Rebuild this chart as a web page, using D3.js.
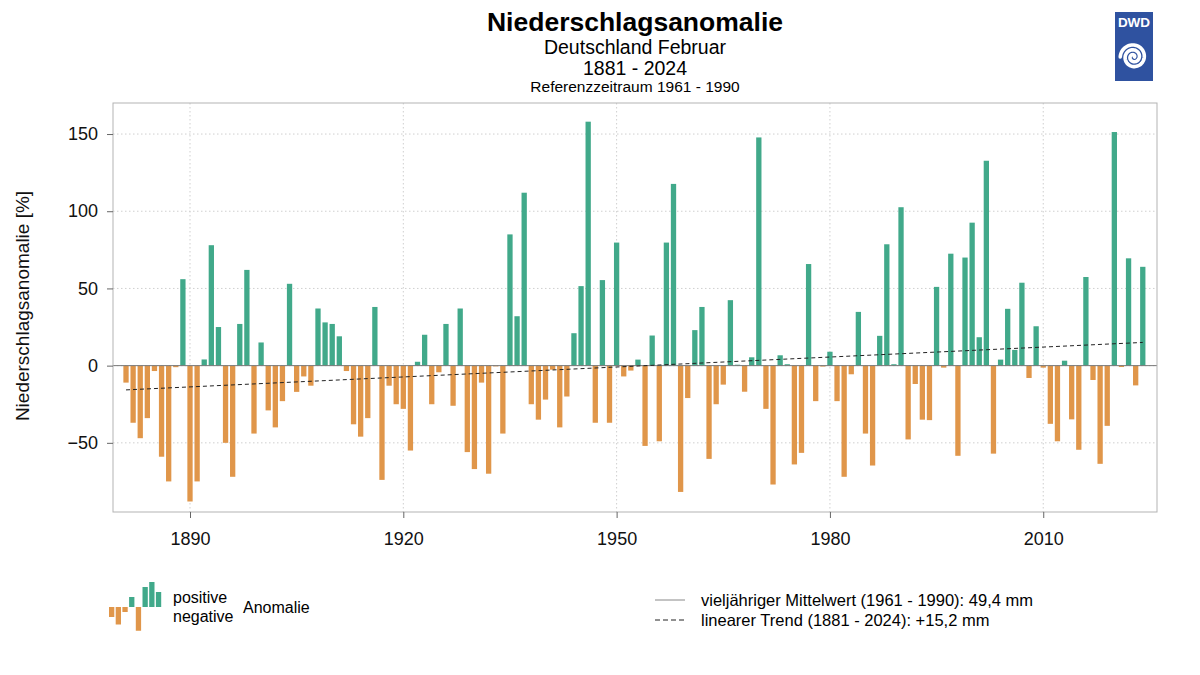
<!DOCTYPE html>
<html>
<head>
<meta charset="utf-8">
<script src="https://cdn.jsdelivr.net/npm/d3@7"></script>
<style>
  body { margin: 0; background: #fff; }
  svg { display: block; font-family: "Liberation Sans", Arial, sans-serif; }
</style>
</head>
<body>
<svg id="chart" width="1200" height="675"></svg>
<script>
// Niederschlagsanomalie Februar in % (Referenz 1961-1990)
const anom1881 = [-11, -37, -47, -34, -3.5, -59, -75, -1, 56, -88, -75, 4, 78, 25, -50, -72, 27, 62, -44, 15];
const anom1901 = [-29, -40, -23, 53, -17, -7, -13, 37, 28, 27, 19, -3.5, -38, -46, -34, 38, -74, -13, -25, -28];
const anom1921 = [-55, 2.5, 20, -25, -4.3, 27, -26, 37, -56, -67, -11, -70, -0.5, -44, 85, 32, 112, -25, -35, -22];
const anom1941 = [-2.6, -40, -20, 21, 51.5, 158, -37, 55.4, -37, 79.7, -7, -3.2, 3.9, -52, 19.5, -49, 79.7, 117.7, -81.8, -21];
const anom1961 = [23, 38, -60.4, -25, -12.3, 42.4, 0.6, -16.9, 5.4, 147.8, -28, -77, 6.7, 0.9, -64, -56.5, 65.8, -23, -0.6, 9];
const anom1981 = [-23, -72, -5.6, 34.8, -44, -64.7, 19.3, 78.6, 0.9, 102.6, -47.8, -11.9, -35, -35.3, 51, -1.3, 72.5, -58.4, 70, 92.6];
const anom2001 = [18.4, 132.7, -57, 3.9, 36.8, 10.2, 53.7, -8, 25.5, -1.3, -37.7, -49, 3.2, -34.8, -54.5, 57.4, -9.3, -63.6, -39, 151.3];
const anom2021 = [-0.9, 69.5, -12.8, 64];

const firstYear = 1881;
const lastYear = 2024;
const yTicks = [-50, 0, 50, 100, 150];
const xTicks = [1890, 1920, 1950, 1980, 2010];
// legend glyph bars
const legendBars = [-4, -7, -2, 4, -9.5, 8, 10, 6];

const values = [].concat(anom1881, anom1901, anom1921, anom1941, anom1961, anom1981, anom2001, anom2021);
const data = d3.range(firstYear, lastYear + 1).map((yr, i) => ({ year: yr, value: values[i] }));

const green = '#41a98a';
const orange = '#e0964a';

const svg = d3.select('#chart');
const plot = { left: 113, right: 1157, top: 103, bottom: 512 };

const xScale = d3.scaleLinear().domain([1879.17, 2026.0]).range([plot.left, plot.right]);
const yScale = d3.scaleLinear().domain([-94.8, 170.1]).range([plot.bottom, plot.top]);

// grid
const grid = svg.append('g').attr('class', 'grid');
grid.selectAll('.gy').data(yTicks).enter().append('line')
  .attr('x1', plot.left).attr('x2', plot.right)
  .attr('y1', d => yScale(d)).attr('y2', d => yScale(d))
  .attr('stroke', '#cfcfcf').attr('stroke-dasharray', '1.5,2.5');
grid.selectAll('.gx').data(xTicks).enter().append('line')
  .attr('y1', plot.top).attr('y2', plot.bottom)
  .attr('x1', d => xScale(d)).attr('x2', d => xScale(d))
  .attr('stroke', '#cfcfcf').attr('stroke-dasharray', '1.5,2.5');

// bars
const barW = 5.3;
svg.append('g').selectAll('rect').data(data).enter().append('rect')
  .attr('x', d => xScale(d.year) - barW / 2)
  .attr('width', barW)
  .attr('y', d => yScale(Math.max(0, d.value)))
  .attr('height', d => Math.abs(yScale(d.value) - yScale(0)))
  .attr('fill', d => d.value >= 0 ? green : orange);

// mean line (0)
svg.append('line')
  .attr('x1', plot.left).attr('x2', plot.right)
  .attr('y1', yScale(0)).attr('y2', yScale(0))
  .attr('stroke', '#777').attr('stroke-width', 1);

// linear trend from data
const mx = d3.mean(data, d => d.year);
const my = d3.mean(data, d => d.value);
const slope = d3.sum(data, d => (d.year - mx) * (d.value - my)) / d3.sum(data, d => (d.year - mx) ** 2);
const trend = [firstYear, lastYear].map(yr => ({ year: yr, value: my + slope * (yr - mx) }));
svg.append('path')
  .datum(trend)
  .attr('d', d3.line().x(d => xScale(d.year)).y(d => yScale(d.value)))
  .attr('fill', 'none').attr('stroke', '#222').attr('stroke-width', 1)
  .attr('stroke-dasharray', '4,3');

// frame
svg.append('rect')
  .attr('x', plot.left).attr('y', plot.top)
  .attr('width', plot.right - plot.left).attr('height', plot.bottom - plot.top)
  .attr('fill', 'none').attr('stroke', '#b3b3b3').attr('stroke-width', 1);

// axes
const yAxis = svg.append('g')
  .attr('transform', `translate(${plot.left},0)`)
  .call(d3.axisLeft(yScale).tickValues(yTicks).tickSize(6).tickPadding(9));
const xAxis = svg.append('g')
  .attr('transform', `translate(0,${plot.bottom})`)
  .call(d3.axisBottom(xScale).tickValues(xTicks).tickSize(6).tickPadding(14).tickFormat(d3.format('d')));
[yAxis, xAxis].forEach(ax => {
  ax.select('.domain').remove();
  ax.selectAll('line').attr('stroke', '#666');
  ax.selectAll('text').attr('fill', '#111').style('font-size', '18px')
    .style('font-family', '"Liberation Sans", Arial, sans-serif');
});

svg.append('text')
  .attr('transform', 'translate(29,306) rotate(-90)')
  .attr('text-anchor', 'middle')
  .style('font-size', '19px').attr('fill', '#111')
  .text('Niederschlagsanomalie [%]');

// titles
const cx = (plot.left + plot.right) / 2;
svg.append('text').attr('x', cx).attr('y', 31).attr('text-anchor', 'middle')
  .style('font-size', '26.5px').style('font-weight', 'bold').text('Niederschlagsanomalie');
svg.append('text').attr('x', cx).attr('y', 54).attr('text-anchor', 'middle')
  .style('font-size', '19.5px').text('Deutschland Februar');
svg.append('text').attr('x', cx).attr('y', 75).attr('text-anchor', 'middle')
  .style('font-size', '19.5px').text(firstYear + ' - ' + lastYear);
svg.append('text').attr('x', cx).attr('y', 92).attr('text-anchor', 'middle')
  .style('font-size', '15.5px').text('Referenzzeitraum 1961 - 1990');

// DWD logo
const logo = svg.append('g');
logo.append('rect').attr('x', 1115).attr('y', 12).attr('width', 38).attr('height', 69).attr('fill', '#2f52a0');
logo.append('text').attr('x', 1134).attr('y', 27).attr('text-anchor', 'middle')
  .attr('fill', '#fff').style('font-size', '13.5px').style('font-weight', 'bold').text('DWD');
const spiral = d3.range(0, 5 * Math.PI, 0.1).map(t => {
  const r = 1 + t * 0.78;
  return [1133.5 + r * Math.cos(t), 57 - r * Math.sin(t)];
});
logo.append('path').attr('d', d3.line()(spiral))
  .attr('fill', 'none').attr('stroke', '#fff').attr('stroke-width', 3.6).attr('stroke-linecap', 'round');

// legend left
const lg = svg.append('g');
const lgY = d3.scaleLinear().domain([0, 10]).range([607, 582]);
lg.selectAll('rect').data(legendBars).enter().append('rect')
  .attr('x', (d, i) => 109 + i * 6.7)
  .attr('width', 5.3)
  .attr('y', d => lgY(Math.max(0, d)))
  .attr('height', d => Math.abs(lgY(d) - lgY(0)))
  .attr('fill', d => d >= 0 ? green : orange);
lg.append('text').attr('x', 173).attr('y', 603).style('font-size', '16px').text('positive');
lg.append('text').attr('x', 173).attr('y', 622).style('font-size', '16px').text('negative');
lg.append('text').attr('x', 243).attr('y', 613).style('font-size', '16px').text('Anomalie');

// legend right
const lr = svg.append('g');
lr.append('line').attr('x1', 655).attr('x2', 685).attr('y1', 600).attr('y2', 600)
  .attr('stroke', '#888').attr('stroke-width', 1);
lr.append('line').attr('x1', 655).attr('x2', 685).attr('y1', 620).attr('y2', 620)
  .attr('stroke', '#222').attr('stroke-width', 1).attr('stroke-dasharray', '5,3');
lr.append('text').attr('x', 701).attr('y', 606).style('font-size', '16.5px')
  .text('vieljähriger Mittelwert (1961 - 1990): 49,4 mm');
lr.append('text').attr('x', 701).attr('y', 626).style('font-size', '16.5px')
  .text('linearer Trend (1881 - 2024): +15,2 mm');
</script>
</body>
</html>
